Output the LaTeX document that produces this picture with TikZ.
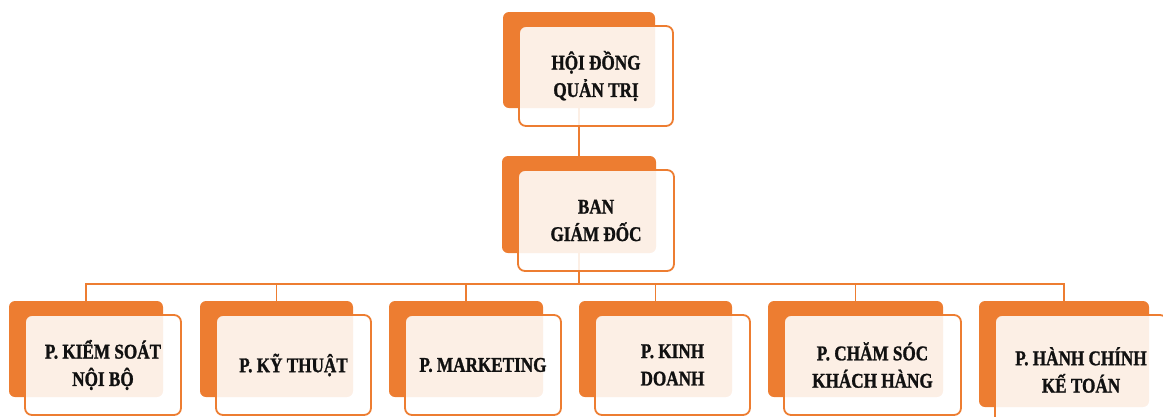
\documentclass[tikz,border=0pt]{standalone}
\usepackage{fontspec}
\newfontfamily\boxfont[FakeStretch=0.82,FakeBold=1.2]{Liberation Serif}
\usetikzlibrary{calc}
\definecolor{orgorange}{HTML}{ED7D31}
\definecolor{orgtext}{HTML}{111111}
\tikzset{
  backbox/.style={fill=orgorange, draw=none, rounded corners=6bp, inner sep=0pt, outer sep=0pt},
  frontbox/.style={draw=orgorange, line width=1.8bp, fill=white, fill opacity=0.88, text opacity=1,
    rounded corners=7bp, inner sep=0pt, outer sep=0pt, align=center, text=orgtext,
    font=\boxfont\bfseries\fontsize{21}{27.5}\selectfont},
  conn/.style={draw=orgorange, line width=1.8bp}
}
% name, back x1, y1, x2, y2, text
\newcommand\orgunit[6]{%
  \node[backbox, minimum width={(#4-#2)*1bp}, minimum height={(#5-#3)*1bp}] (#1b) at ({(#2+#4)/2},{(#3+#5)/2}) {};
  \node[frontbox, minimum width={(#4-#2+2)*1bp}, minimum height={(#5-#3+4)*1bp}] (#1) at ({(#2+#4)/2+17},{(#3+#5)/2+16}) {#6};
}
\begin{document}
\begin{tikzpicture}[x=1bp,y=-1bp]
\useasboundingbox (0,0) rectangle (1163,416);
\coordinate (bus) at (579,284);
\coordinate (top1) at (579,108);
\coordinate (top2) at (579,156);
\coordinate (mid1) at (579,253);
% connectors (behind boxes)
\draw[conn] (top1) -- (top2);
\draw[conn] (mid1) -- (bus);
\foreach \cx in {86,276.5,466,655.5,855.5,1064}{
  \draw[conn] (bus) -| (\cx,301);
}
\orgunit{T}{503}{12}{655}{108}{HỘI ĐỒNG\\QUẢN TRỊ}
\orgunit{B}{502}{156}{656}{253}{BAN\\GIÁM ĐỐC}
\orgunit{P1}{9}{301}{163}{397}{P. KIỂM SOÁT\\NỘI BỘ}
\orgunit{P2}{200}{301}{353}{397}{P. KỸ THUẬT}
\orgunit{P3}{389}{301}{543}{397}{P. MARKETING}
\orgunit{P4}{579}{301}{732}{397}{P. KINH\\DOANH}
\orgunit{P5}{768}{301}{943}{397}{P. CHĂM SÓC\\KHÁCH HÀNG}
\orgunit{P6}{979}{301}{1149}{407}{P. HÀNH CHÍNH\\KẾ TOÁN}
\end{tikzpicture}
\end{document}
